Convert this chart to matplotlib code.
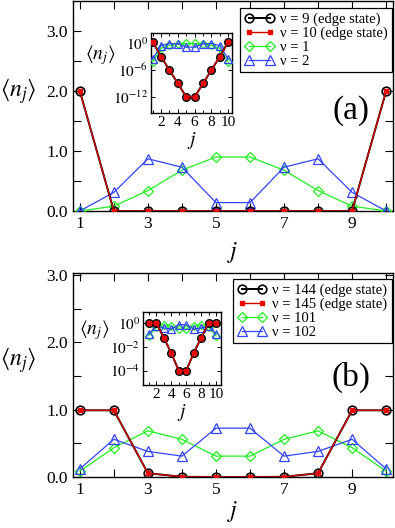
import numpy as np
import matplotlib
matplotlib.use("Agg")
import matplotlib.pyplot as plt

plt.rcParams['font.family'] = ['Liberation Serif', 'DejaVu Serif']
plt.rcParams['mathtext.fontset'] = 'stix'

j = np.arange(1, 11)

# panel (a)
a_edge9 = [2.0, 1e-3, 1e-6, 1e-9, 1e-12, 1e-12, 1e-9, 1e-6, 1e-3, 2.0]
a_edge10 = [2.0, 1e-3, 1e-6, 1e-9, 1e-12, 1e-12, 1e-9, 1e-6, 1e-3, 2.0]
a_nu1 = [6e-5, 0.08, 0.34, 0.68, 0.90, 0.90, 0.68, 0.34, 0.08, 6e-5]
a_nu2 = [3e-4, 0.31, 0.87, 0.73, 0.14, 0.14, 0.73, 0.87, 0.31, 3e-4]
a_labels = ['ν = 9 (edge state)', 'ν = 10 (edge state)', 'ν = 1', 'ν = 2']

# panel (b)
b_edge144 = [0.99, 0.99, 0.056, 0.003, 1e-4, 1e-4, 0.003, 0.056, 0.99, 0.99]
b_edge145 = [0.99, 0.99, 0.056, 0.003, 1e-4, 1e-4, 0.003, 0.056, 0.99, 0.99]
b_nu101 = [0.085, 0.435, 0.685, 0.56, 0.31, 0.31, 0.56, 0.685, 0.435, 0.085]
b_nu102 = [0.12, 0.56, 0.38, 0.31, 0.725, 0.725, 0.31, 0.38, 0.56, 0.12]
b_labels = ['ν = 144 (edge state)', 'ν = 145 (edge state)', 'ν = 101', 'ν = 102']

GREEN = '#22ee22'
BLUE = '#3344ff'
RED = '#ee0000'


def draw_series(ax, s1, s2, s3, s4, labels, ms=1.0):
    ax.plot(j, s3, '-', color=GREEN, lw=0.9, marker='D', ms=4.8 * ms, mfc='none',
            mec=GREEN, mew=0.9, label=labels[2], zorder=3)
    ax.plot(j, s4, '-', color=BLUE, lw=0.9, marker='^', ms=6.5 * ms, mfc='none',
            mec=BLUE, mew=0.9, label=labels[3], zorder=3)
    ax.plot(j, s1, '-', color='black', lw=1.4, marker='o', ms=6.2 * ms, mfc='none',
            mec='black', mew=1.2, label=labels[0], zorder=4)
    ax.plot(j, s2, '-', color='#cc0000', lw=1.0, marker='s', ms=3.0 * ms, mfc=RED,
            mec=RED, label=labels[1], zorder=5)


def style_main(ax, ytop, xpad):
    ax.set_xlim(0.8, 10.2)
    ax.set_ylim(0, ytop)
    ax.set_xticks([1, 3, 5, 7, 9])
    ax.set_xticks(j, minor=True)
    ax.set_yticks([0, 1, 2, 3])
    ax.set_yticklabels(['0.0', '1.0', '2.0', '3.0'])
    ax.set_yticks([0.5, 1.5, 2.5], minor=True)
    ax.tick_params(which='both', direction='in', top=True, right=True, labelsize=12.5)
    ax.tick_params(which='major', length=6, width=0.8)
    ax.tick_params(which='minor', length=6, width=0.8)
    ax.set_xlabel(r'$j$', fontsize=17, labelpad=xpad)
    ax.set_ylabel(r'$\langle n_j\rangle$', fontsize=17, rotation=0)
    ax.yaxis.set_label_coords(-0.17, 0.5)
    for sp in ax.spines.values():
        sp.set_linewidth(1.0)


def style_inset(ax, ylim, yticks, yticklabels, xlim):
    ax.set_yscale('log')
    ax.set_xlim(*xlim)
    ax.set_ylim(*ylim)
    ax.set_yticks(yticks)
    ax.set_yticklabels(yticklabels)
    ax.yaxis.set_minor_locator(matplotlib.ticker.NullLocator())
    ax.set_xticks([2, 4, 6, 8, 10])
    ax.set_xticks(j, minor=True)
    ax.tick_params(which='both', direction='in', top=True, right=True, labelsize=11, pad=2)
    ax.tick_params(which='major', length=3, width=0.7)
    ax.tick_params(which='minor', length=2, width=0.7)
    ax.set_xlabel(r'$j$', fontsize=14, labelpad=1)
    ax.set_ylabel(r'$\langle n_j\rangle$', fontsize=14, rotation=0, va='center')
    for sp in ax.spines.values():
        sp.set_linewidth(1.0)


def add_legend(ax, anchor):
    order = [2, 3, 0, 1]
    h, l = ax.get_legend_handles_labels()
    leg = ax.legend([h[i] for i in order], [l[i] for i in order], loc='upper right',
                    bbox_to_anchor=anchor, bbox_transform=fig.transFigure,
                    numpoints=2, handlelength=2.0, fontsize=10.5, fancybox=False,
                    framealpha=1, edgecolor='black', borderpad=0.3, labelspacing=0.05,
                    handletextpad=0.4, borderaxespad=0)
    leg.get_frame().set_linewidth(0.9)
    return leg


fig = plt.figure(figsize=(3.95, 5.28), dpi=100)

# ---- panel (a)
ax1 = fig.add_axes([0.1848, 0.6004, 0.810, 0.3977])
draw_series(ax1, a_edge9, a_edge10, a_nu1, a_nu2, a_labels)
style_main(ax1, 3.5, 6)
ax1.text(0.87, 0.48, '(a)', transform=ax1.transAxes, fontsize=24, ha='center', va='center')
add_legend(ax1, (0.992, 0.985))

ins1 = fig.add_axes([0.3823, 0.786, 0.205, 0.1515])
draw_series(ins1, a_edge9, a_edge10, a_nu1, a_nu2, a_labels, ms=0.85)
style_inset(ins1, (10 ** -15.6, 10 ** 2.3), [1e0, 1e-6, 1e-12],
            [r'$10^{0}$', r'$10^{-6}$', r'$10^{-12}$'], (0.8, 10.45))
ins1.yaxis.set_label_coords(-0.63, 0.72)

# ---- panel (b)
ax2 = fig.add_axes([0.1848, 0.0966, 0.810, 0.3864])
draw_series(ax2, b_edge144, b_edge145, b_nu101, b_nu102, b_labels)
style_main(ax2, 3.03, 1)
ax2.text(0.87, 0.49, '(b)', transform=ax2.transAxes, fontsize=24, ha='center', va='center')
add_legend(ax2, (0.992, 0.4716))

ins2 = fig.add_axes([0.362, 0.2708, 0.1975, 0.1383])
draw_series(ins2, b_edge144, b_edge145, b_nu101, b_nu102, b_labels, ms=0.85)
style_inset(ins2, (10 ** -5.2, 10 ** 0.92), [1e0, 1e-2, 1e-4],
            [r'$10^{0}$', r'$10^{-2}$', r'$10^{-4}$'], (0.2, 10.67))
ins2.yaxis.set_label_coords(-0.62, 0.75)

fig.savefig('out.png', dpi=100)
